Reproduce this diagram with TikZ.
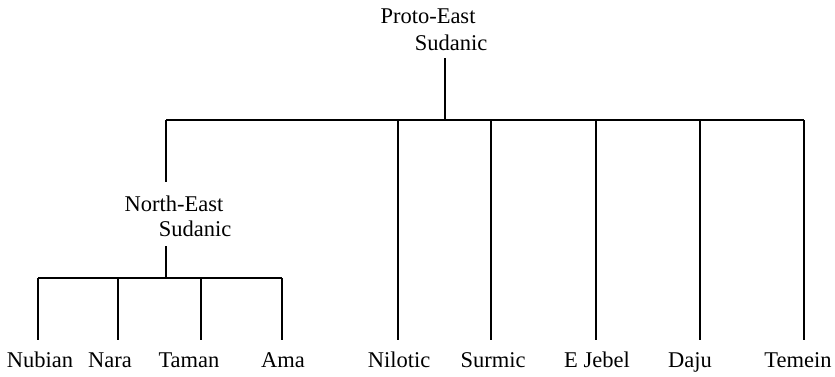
\documentclass[tikz,border=0pt]{standalone}
\usepackage{fontspec}
\setmainfont{Liberation Serif}
\usetikzlibrary{calc}

\begin{document}
\begin{tikzpicture}[x=0.5pt, y=-0.5pt, inner sep=0pt, font=\fontsize{11.25}{13}\selectfont]
	\tikzset{lbl/.style={anchor=base}, ast/.style={-, line width=0.75pt, black}}

	\useasboundingbox (0,0) rectangle (835,376);

	\node[lbl](pe_a) at (428,23) {Proto-East};
	\node[lbl](pe_b) at (451,50) {Sudanic};

	\node[lbl](ne_a) at (174,211) {North-East};
	\node[lbl](ne_b) at (195,236) {Sudanic};

	\node[lbl](nubian) at (40,367) {Nubian};
	\node[lbl](nara) at (110,367) {Nara};
	\node[lbl](taman) at (189,367) {Taman};
	\node[lbl](ama) at (283,367) {Ama};
	\node[lbl](nilotic) at (399,367) {Nilotic};
	\node[lbl](surmic) at (493,367) {Surmic};
	\node[lbl](ejebel) at (597,367) {E Jebel};
	\node[lbl](daju) at (690,367) {Daju};
	\node[lbl](temein) at (798,367) {Temein};

	\coordinate (pe_start) at (445,58);
	\coordinate (pe_ende) at (445,120);
	\coordinate (bar1_start) at (166,120);
	\coordinate (bar1_ende) at (804,120);
	\coordinate (ne_top) at (166,182);
	\coordinate (ne_start) at (166,246);
	\coordinate (ne_ende) at (166,278);
	\coordinate (bar2_start) at (38,278);
	\coordinate (bar2_ende) at (282,278);

	\coordinate (nubian_ende) at (38,340);
	\coordinate (nara_start) at (118,278);
	\coordinate (nara_ende) at (118,340);
	\coordinate (taman_start) at (201,278);
	\coordinate (taman_ende) at (201,340);
	\coordinate (ama_ende) at (282,340);
	\coordinate (nilotic_start) at (398,120);
	\coordinate (nilotic_ende) at (398,340);
	\coordinate (surmic_start) at (491,120);
	\coordinate (surmic_ende) at (491,340);
	\coordinate (ejebel_start) at (596,120);
	\coordinate (ejebel_ende) at (596,340);
	\coordinate (daju_start) at (700,120);
	\coordinate (daju_ende) at (700,340);
	\coordinate (temein_ende) at (804,340);

	% horizontal
	\draw[ast](bar1_start) -- (bar1_ende);
	\draw[ast](bar2_start) -- (bar2_ende);

	% vertikal
	\draw[ast](pe_start) -- (pe_ende);
	\draw[ast](bar1_start) -- (ne_top);
	\draw[ast](ne_start) -- (ne_ende);
	\draw[ast](bar2_start) -- (nubian_ende);
	\draw[ast](nara_start) -- (nara_ende);
	\draw[ast](taman_start) -- (taman_ende);
	\draw[ast](bar2_ende) -- (ama_ende);
	\draw[ast](nilotic_start) -- (nilotic_ende);
	\draw[ast](surmic_start) -- (surmic_ende);
	\draw[ast](ejebel_start) -- (ejebel_ende);
	\draw[ast](daju_start) -- (daju_ende);
	\draw[ast](bar1_ende) -- (temein_ende);

\end{tikzpicture}
\end{document}
